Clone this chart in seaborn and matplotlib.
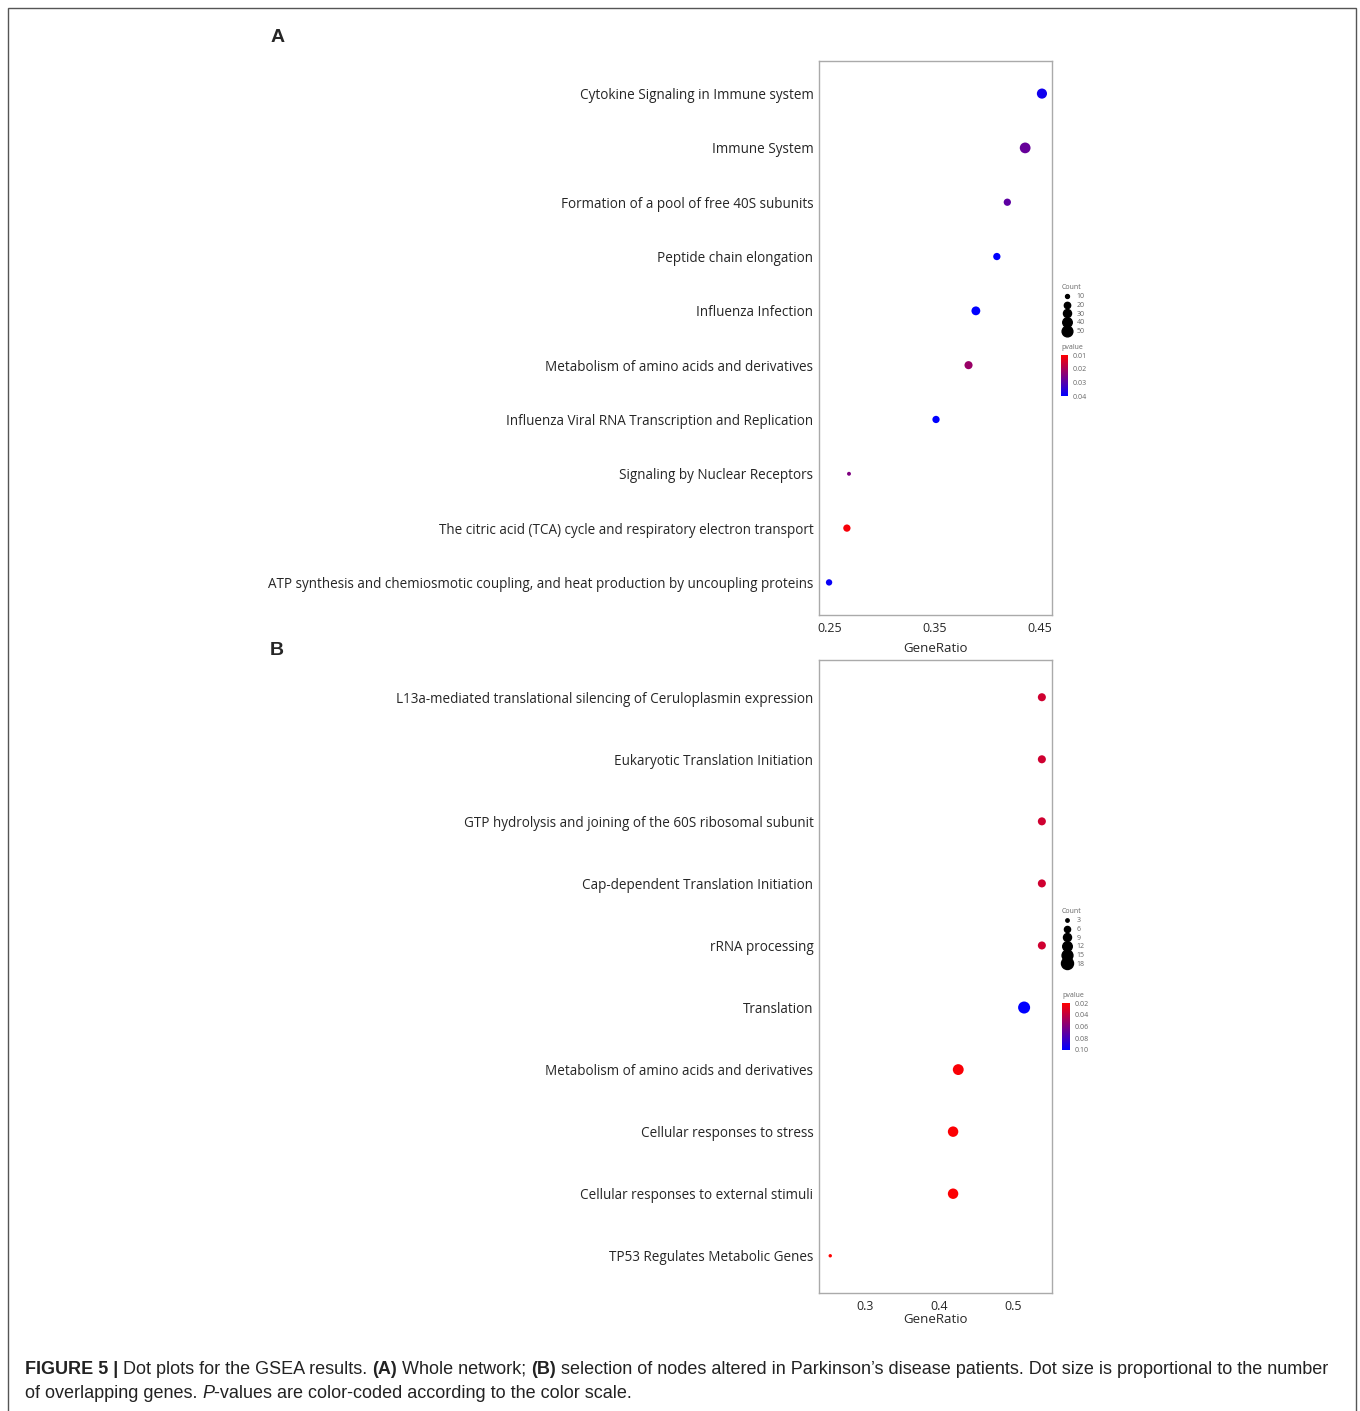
import numpy as np
import pandas as pd
import matplotlib
matplotlib.use("Agg")
import matplotlib.pyplot as plt
import seaborn as sns
from matplotlib.colors import LinearSegmentedColormap, Normalize
from matplotlib.lines import Line2D
from matplotlib.patches import Rectangle

# --- Panel A data (whole network) ---
terms_a = [
    "Cytokine Signaling in Immune system",
    "Immune System",
    "Formation of a pool of free 40S subunits",
    "Peptide chain elongation",
    "Influenza Infection",
    "Metabolism of amino acids and derivatives",
    "Influenza Viral RNA Transcription and Replication",
    "Signaling by Nuclear Receptors",
    "The citric acid (TCA) cycle and respiratory electron transport",
    "ATP synthesis and chemiosmotic coupling, and heat production by uncoupling proteins",
]
ratio_a = [0.452, 0.436, 0.419, 0.409, 0.389, 0.382, 0.351, 0.268, 0.266, 0.249]
count_a = [45, 50, 25, 25, 35, 30, 25, 10, 25, 20]
pval_a = [0.038, 0.028, 0.029, 0.040, 0.041, 0.022, 0.041, 0.025, 0.011, 0.039]

# --- Panel B data (Parkinson's disease nodes) ---
terms_b = [
    "L13a-mediated translational silencing of Ceruloplasmin expression",
    "Eukaryotic Translation Initiation",
    "GTP hydrolysis and joining of the 60S ribosomal subunit",
    "Cap-dependent Translation Initiation",
    "rRNA processing",
    "Translation",
    "Metabolism of amino acids and derivatives",
    "Cellular responses to stress",
    "Cellular responses to external stimuli",
    "TP53 Regulates Metabolic Genes",
]
ratio_b = [0.539, 0.539, 0.539, 0.539, 0.539, 0.515, 0.426, 0.419, 0.419, 0.253]
count_b = [9, 9, 9, 9, 9, 18, 15, 14, 14, 3]
pval_b = [0.035, 0.035, 0.035, 0.035, 0.035, 0.100, 0.022, 0.021, 0.021, 0.020]

cmap = LinearSegmentedColormap.from_list("rb", ["#ff0000", "#0000ff"])
W, H = 1360, 1411

sns.set_theme(style="white")
plt.rcParams["font.family"] = ["Open Sans", "DejaVu Sans"]

fig = plt.figure(figsize=(W / 100, H / 100), dpi=100)


def box(x0, y0, x1, y1):
    # pixel box -> figure fraction [left, bottom, width, height]
    return [x0 / W, 1 - y1 / H, (x1 - x0) / W, (y1 - y0) / H]


def panel(rect, terms, ratio, count, pval, xlim, xticks, sizes, size_norm, hue_norm,
          leg_y, cbar_rect, cbar_ticks, size_ticks, xlab_pad):
    ax = fig.add_axes(box(*rect))
    df = pd.DataFrame({"term": terms, "GeneRatio": ratio, "Count": count, "pvalue": pval})
    sns.scatterplot(data=df, x="GeneRatio", y="term", hue="pvalue", size="Count",
                    palette=cmap, hue_norm=hue_norm, sizes=sizes, size_norm=size_norm,
                    linewidth=0, legend=False, ax=ax)
    ax.set_xlim(*xlim)
    ax.set_ylim(len(terms) - 0.4, -0.6)
    ax.set_xticks(xticks)
    ax.set_xticklabels([f"{t:g}" for t in xticks])
    ax.set_ylabel("")
    ax.set_xlabel("GeneRatio", fontsize=9.5, labelpad=xlab_pad)
    ax.tick_params(axis="y", labelsize=9.75, length=2, color="#999999", pad=2)
    ax.tick_params(axis="x", labelsize=9, length=2, color="#999999", pad=3)
    for s in ax.spines.values():
        s.set_color("#aaaaaa")
        s.set_linewidth(1.0)

    # size legend
    smin, smax = sizes
    n0, n1 = size_norm
    handles = []
    for c in size_ticks:
        area = smin + (c - n0) / (n1 - n0) * (smax - smin)
        handles.append(Line2D([], [], marker="o", linestyle="", color="black",
                              markersize=np.sqrt(area), label=str(c)))
    leg = fig.legend(handles=handles, title="Count", loc="upper left",
                     bbox_to_anchor=(1058 / W, 1 - leg_y / H), frameon=False,
                     fontsize=5, title_fontsize=5, labelspacing=0.25,
                     handletextpad=0.6, borderpad=0, handlelength=1.6)
    leg._legend_box.align = "left"
    for t in leg.get_texts():
        t.set_color("#666666")
    leg.get_title().set_color("#666666")

    # colorbar for p-value
    cax = fig.add_axes(box(*cbar_rect))
    sm = plt.cm.ScalarMappable(cmap=cmap, norm=Normalize(*hue_norm))
    cb = fig.colorbar(sm, cax=cax, ticks=cbar_ticks)
    cb.ax.invert_yaxis()
    cb.outline.set_visible(False)
    cb.ax.tick_params(labelsize=5, length=0, pad=3, labelcolor="#666666")
    cb.ax.set_title("pvalue", fontsize=5, color="#666666", loc="left", pad=4)
    return ax


panel((819, 61, 1052, 615), terms_a, ratio_a, count_a, pval_a,
      (0.2394, 0.4616), [0.25, 0.35, 0.45], (8, 60), (10, 50), (0.01, 0.04),
      281, (1061, 355, 1068, 396), [0.01, 0.02, 0.03, 0.04], [10, 20, 30, 40, 50], 5)

panel((819, 660, 1052, 1293), terms_b, ratio_b, count_b, pval_b,
      (0.2378, 0.5527), [0.3, 0.4, 0.5], (6, 75), (3, 18), (0.02, 0.10),
      905, (1062, 1003, 1070, 1050), [0.02, 0.04, 0.06, 0.08, 0.10],
      [3, 6, 9, 12, 15, 18], 0)

# panel letters
fig.text(271 / W, 1 - 38 / H, "A", fontsize=14, fontweight="bold",
         family=["Liberation Sans"], va="center")
fig.text(270 / W, 1 - 650 / H, "B", fontsize=14, fontweight="bold",
         family=["Liberation Sans"], va="center")

# outer frame
fig.patches.append(Rectangle((8 / W, -0.01), (1356 - 8) / W, 1 - 8 / H + 0.01,
                             transform=fig.transFigure, fill=False,
                             edgecolor="#555555", linewidth=1.0))

# caption
cap_font = ["Liberation Sans"]
y1 = 1 - 1369 / H
x = 25 / W
parts = [("FIGURE 5 | ", "bold"), ("Dot plots for the GSEA results. ", "normal"),
         ("(A)", "bold"), (" Whole network; ", "normal"), ("(B)", "bold"),
         (" selection of nodes altered in Parkinson\u2019s disease patients. Dot size is proportional to the number",
          "normal")]
renderer = fig.canvas.get_renderer()
for txt, wt in parts:
    t = fig.text(x, y1, txt, fontsize=13, fontweight=wt, family=cap_font,
                 va="center", color="#222222")
    bb = t.get_window_extent(renderer=renderer)
    x += bb.width / W
x = 25 / W
y2 = 1 - 1394 / H
for txt, st in [("of overlapping genes. ", "normal"), ("P", "italic"),
                ("-values are color-coded according to the color scale.", "normal")]:
    t = fig.text(x, y2, txt, fontsize=13, fontstyle=st, family=cap_font,
                 va="center", color="#222222")
    bb = t.get_window_extent(renderer=renderer)
    x += bb.width / W

fig.savefig("out.png", dpi=100, facecolor="white")
